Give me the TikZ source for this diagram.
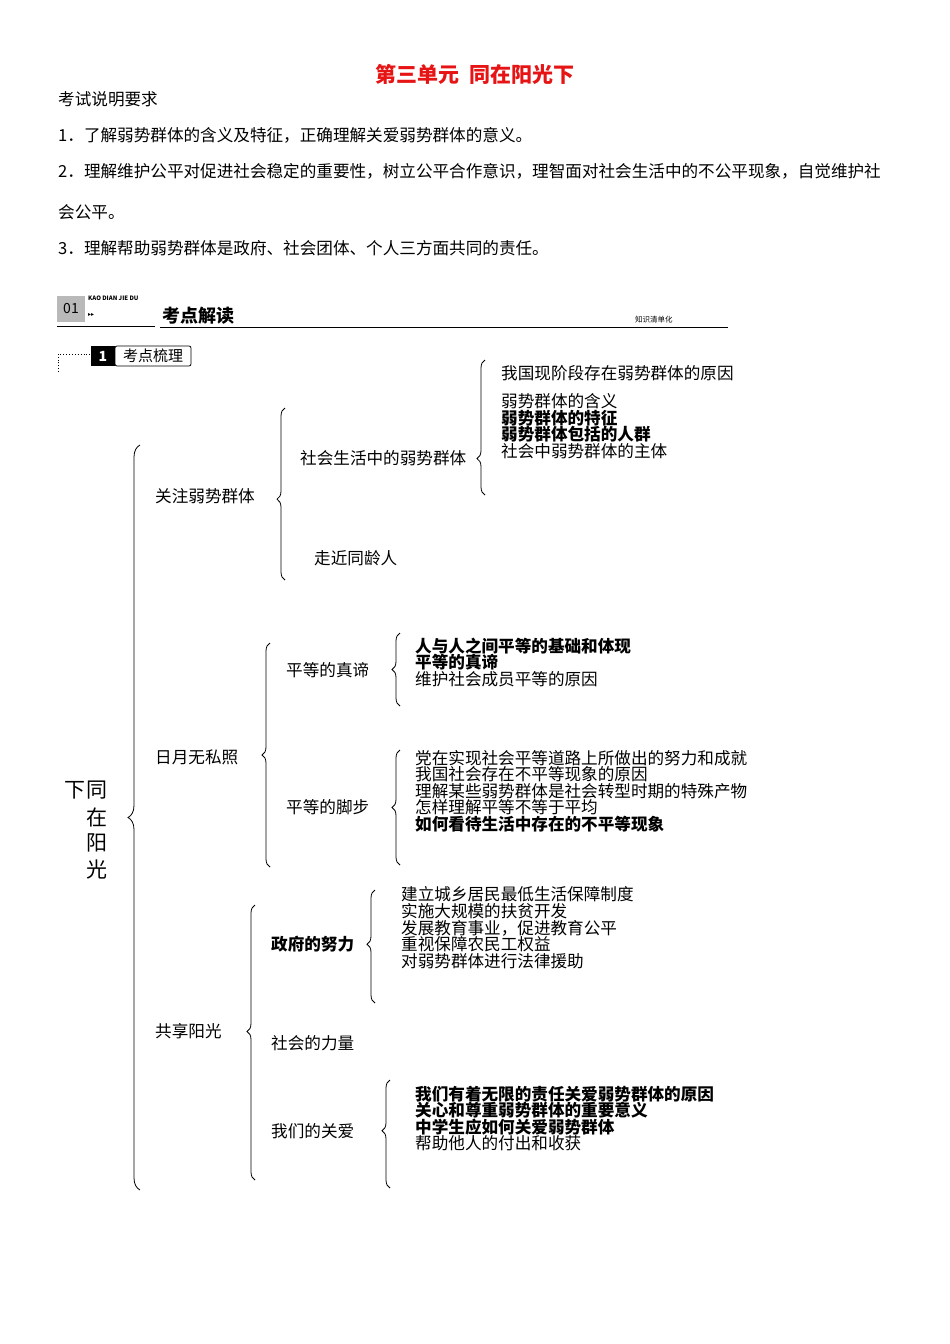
\documentclass[tikz,border=0pt]{standalone}
\usepackage{fontspec}
\setmainfont{Noto Sans CJK SC}
\newfontfamily\dejavu{DejaVu Sans}
\usetikzlibrary{decorations.pathreplacing}
\definecolor{tred}{RGB}{230,20,20}
\tikzset{
 t/.style={anchor=west,inner sep=0pt,font=\fontsize{16.6}{16.6}\selectfont},
 tb/.style={t,font=\fontsize{16.6}{16.6}\selectfont\bfseries},
 br/.style={decorate,decoration={brace,amplitude=8pt},line width=0.8pt},
}
\begin{document}
\begin{tikzpicture}[x=1pt,y=-1pt]
\useasboundingbox (0,0) rectangle (950,1344);
\node[inner sep=0pt,font=\fontsize{21}{21}\selectfont\bfseries,text=tred] (title) at (475,74) {第三单元\ \ 同在阳光下};
\node[t] (req) at (58,99) {考试说明要求};
\node[t] (r1) at (58,135) {1．了解弱势群体的含义及特征，正确理解关爱弱势群体的意义。};
\node[t] (r2) at (58,171) {2．理解维护公平对促进社会稳定的重要性，树立公平合作意识，理智面对社会生活中的不公平现象，自觉维护社};
\node[t] (r2b) at (58,212) {会公平。};
\node[t] (r3) at (58,248) {3．理解帮助弱势群体是政府、社会团体、个人三方面共同的责任。};
% header
\fill[gray!55] (57,296) rectangle (85,322);
\node[inner sep=0pt,font=\fontsize{14}{14}\selectfont] (n01) at (71,309) {01};
\node[anchor=west,inner sep=0pt,font=\fontsize{6}{6}\selectfont\bfseries] (kao) at (88,298) {KAO DIAN JIE DU};
\node[anchor=west,inner sep=0pt,font=\fontsize{6}{6}\selectfont\dejavu] (arr) at (88,315) {▸▸};
\draw[line width=1pt] (57,326) -- (155,326);
\node[anchor=west,inner sep=0pt,font=\fontsize{18}{18}\selectfont\bfseries] (kd) at (162,316) {考点解读};
\draw[line width=1pt] (160,327) -- (728,327);
\node[anchor=west,inner sep=0pt,font=\fontsize{7.5}{7.5}\selectfont] (zs) at (635,320) {知识清单化};
\draw[dotted,line width=0.9pt] (58,372) -- (58,354) -- (90,354);
\fill[black] (91,346) rectangle (115,366);
\node[inner sep=0pt,text=white,font=\fontsize{14}{14}\selectfont\bfseries] (one) at (103,356) {1};
\draw[rounded corners=2pt,line width=0.8pt] (115,346) rectangle (191,366);
\node[inner sep=0pt,font=\fontsize{15}{15}\selectfont] (kdsl) at (153,356) {考点梳理};
% main title
\foreach \ch/\yy in {同/790,在/817,阳/843,光/870}{\node[inner sep=0pt,font=\fontsize{21}{21}\selectfont] at (97,\yy) {\ch};}
\node[inner sep=0pt,font=\fontsize{21}{21}\selectfont] (xia) at (75,790) {下};
\draw[br,decoration={amplitude=12pt,aspect=0.5}] (140,1190) -- (140,445);
% level 1
\node[t] (a) at (155,496) {关注弱势群体};
\node[t] (b) at (155,757) {日月无私照};
\node[t] (c) at (155,1031) {共享阳光};
% A
\draw[br,decoration={aspect=0.47}] (285,580) -- (285,408);
\node[t] (a1) at (300,458) {社会生活中的弱势群体};
\node[t] (a2) at (314,558) {走近同龄人};
\draw[br,decoration={aspect=0.27}] (485,495) -- (485,360);
\node[t] (a11) at (501,373) {我国现阶段存在弱势群体的原因};
\node[t] (a12) at (501,401) {弱势群体的含义};
\node[tb] (a13) at (501,418) {弱势群体的特征};
\node[tb] (a14) at (501,434) {弱势群体包括的人群};
\node[t] (a15) at (501,451) {社会中弱势群体的主体};
% B
\draw[br] (270,867) -- (270,643);
\node[t] (b1) at (286,670) {平等的真谛};
\node[t] (b2) at (286,807) {平等的脚步};
\draw[br] (400,706) -- (400,633);
\node[tb] (b11) at (415,646) {人与人之间平等的基础和体现};
\node[tb] (b12) at (415,662) {平等的真谛};
\node[t] (b13) at (415,679) {维护社会成员平等的原因};
\draw[br] (400,865) -- (400,750);
\node[t] (b21) at (415,758) {党在实现社会平等道路上所做出的努力和成就};
\node[t] (b22) at (415,774) {我国社会存在不平等现象的原因};
\node[t] (b23) at (415,791) {理解某些弱势群体是社会转型时期的特殊产物};
\node[t] (b24) at (415,807) {怎样理解平等不等于平均};
\node[tb] (b25) at (415,824) {如何看待生活中存在的不平等现象};
% C
\draw[br,decoration={aspect=0.54}] (255,1180) -- (255,905);
\node[tb] (c1) at (271,944) {政府的努力};
\node[t] (c2) at (271,1043) {社会的力量};
\node[t] (c3) at (271,1131) {我们的关爱};
\draw[br,decoration={aspect=0.52}] (375,1003) -- (375,890);
\node[t] (c11) at (401,894) {建立城乡居民最低生活保障制度};
\node[t] (c12) at (401,911) {实施大规模的扶贫开发};
\node[t] (c13) at (401,928) {发展教育事业，促进教育公平};
\node[t] (c14) at (401,944) {重视保障农民工权益};
\node[t] (c15) at (401,961) {对弱势群体进行法律援助};
\draw[br,decoration={aspect=0.53}] (390,1188) -- (390,1080);
\node[tb] (c31) at (415,1094) {我们有着无限的责任关爱弱势群体的原因};
\node[tb] (c32) at (415,1110) {关心和尊重弱势群体的重要意义};
\node[tb] (c33) at (415,1127) {中学生应如何关爱弱势群体};
\node[t] (c34) at (415,1143) {帮助他人的付出和收获};
\end{tikzpicture}
\end{document}
